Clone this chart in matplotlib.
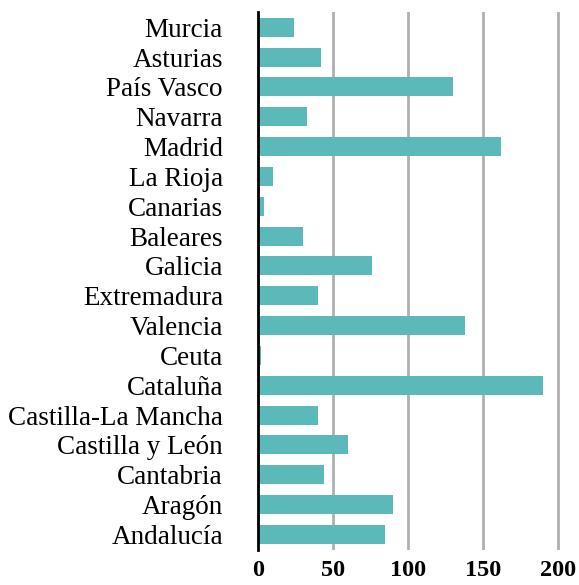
import matplotlib
matplotlib.use('Agg')
import matplotlib.pyplot as plt
import numpy as np

# regions listed bottom to top
regions = ['Andalucía', 'Aragón', 'Cantabria', 'Castilla y León',
           'Castilla-La Mancha', 'Cataluña', 'Ceuta', 'Valencia',
           'Extremadura', 'Galicia', 'Baleares', 'Canarias', 'La Rioja',
           'Madrid', 'Navarra', 'País Vasco', 'Asturias', 'Murcia']
values = [85, 90, 44, 60, 40, 190, 2, 138, 40, 76, 30, 4, 10, 162, 33, 130, 42, 24]
xticks = [0, 50, 100, 150, 200]

BAR = '#5BBAB9'
GRID = '#B0B0B0'

plt.rcParams['font.family'] = ['Liberation Serif', 'DejaVu Serif']

fig = plt.figure(figsize=(5.79, 5.85), dpi=100)
ax = fig.add_axes([0.445, 0.06, 0.555, 0.92])

y = np.arange(len(regions))
ax.barh(y, values, height=0.64, color=BAR, zorder=3)

ax.set_xlim(0, 214)
ax.set_ylim(-0.52, len(regions) - 0.48)
ax.set_yticks(y)
ax.set_yticklabels(regions, fontsize=19.5)
ax.set_xticks(xticks)
ax.set_xticklabels([str(t) for t in xticks], fontsize=17.5, fontweight='bold')
ax.tick_params(length=0)
ax.tick_params(axis='x', pad=7)
ax.tick_params(axis='y', pad=25)

ax.grid(axis='x', color=GRID, lw=2, zorder=0)
for s in ['top', 'right', 'bottom']:
    ax.spines[s].set_visible(False)
ax.spines['left'].set_color('black')
ax.spines['left'].set_linewidth(2)
ax.spines['left'].set_zorder(4)

fig.savefig('out.png', dpi=100)
